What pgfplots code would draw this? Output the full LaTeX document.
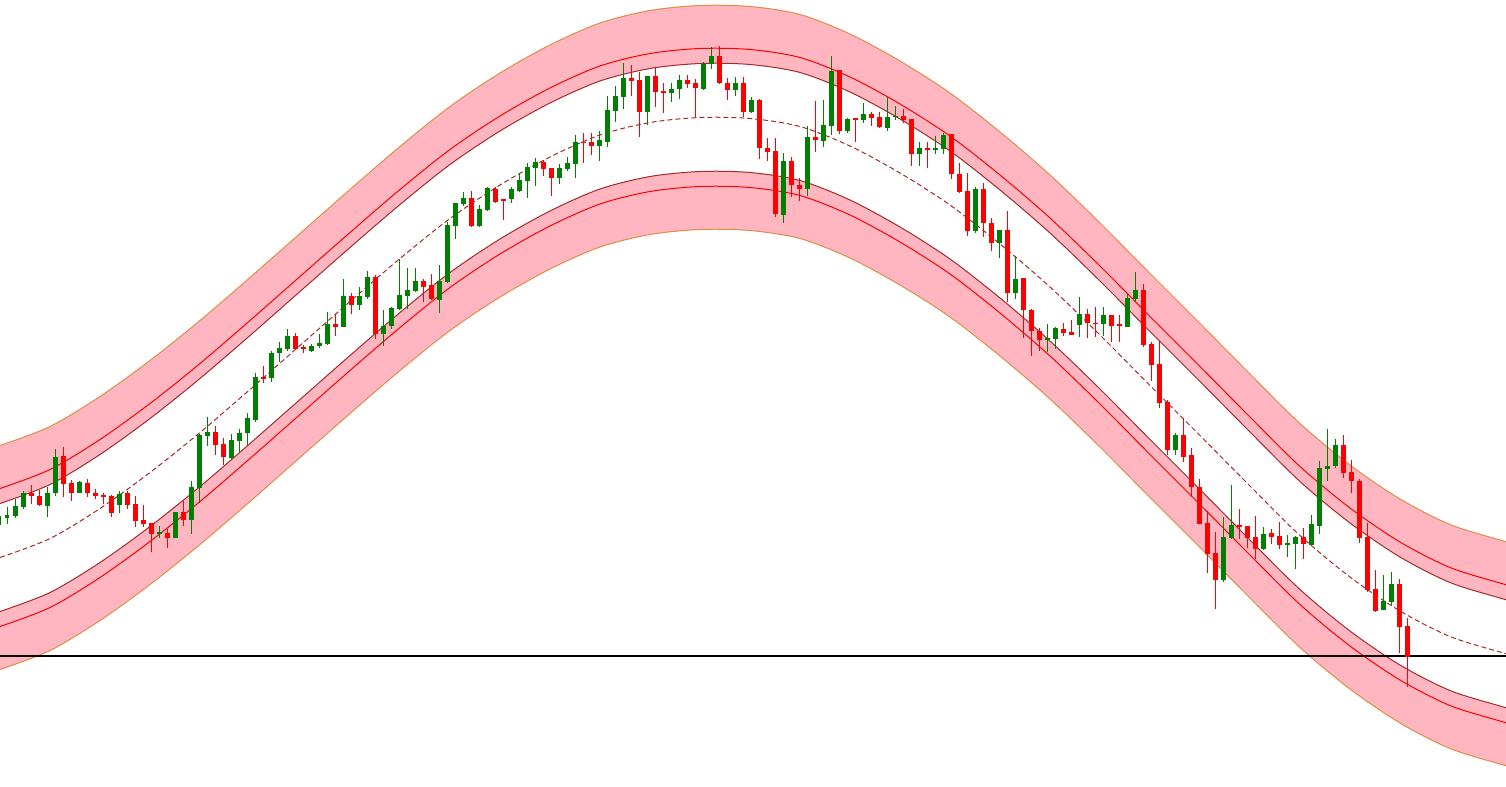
\documentclass[border=0pt]{standalone}
\usepackage{pgfplots}
\pgfplotsset{compat=1.18}
\usepackage{pgfplotstable}
\usepgfplotslibrary{fillbetween}
\definecolor{cgreen}{RGB}{0,128,0}
\definecolor{cred}{RGB}{255,0,0}
\definecolor{bandpink}{RGB}{255,182,193}
\definecolor{edgeorange}{RGB}{225,140,70}
\definecolor{innerbrown}{RGB}{165,42,42}

\pgfplotstableread{
x c uo ur ui li lr lo
0 557.5 445.5 488.5 503.5 611.5 626.5 669.5
50 538.5 426.5 469.5 484.5 592.5 607.5 650.5
100 508.5 396.5 439.5 454.5 562.5 577.5 620.5
150 472.5 360.5 403.5 418.5 526.5 541.5 584.5
200 432.5 320.5 363.5 378.5 486.5 501.5 544.5
250 389.5 277.5 320.5 335.5 443.5 458.5 501.5
300 345.5 233.5 276.5 291.5 399.5 414.5 457.5
350 301.5 189.5 232.5 247.5 355.5 370.5 413.5
400 258.5 146.5 189.5 204.5 312.5 327.5 370.5
450 218.5 106.5 149.5 164.5 272.5 287.5 330.5
500 185 73 116 131 239 254 297
550 157 45 88 103 211 226 269
600 135 23 66 81 189 204 247
650 122.5 10.5 53.5 68.5 176.5 191.5 234.5
700 117.5 5.5 48.5 63.5 171.5 186.5 229.5
750 118.5 6.5 49.5 64.5 172.5 187.5 230.5
800 126.5 14.5 57.5 72.5 180.5 195.5 238.5
850 146 34 77 92 200 215 258
900 173 61 104 119 227 242 285
950 205 93 136 151 259 274 317
1000 244 132 175 190 298 313 356
1050 287 175 218 233 341 356 399
1100 335 223 266 281 389 404 447
1150 385.5 273.5 316.5 331.5 439.5 454.5 497.5
1200 435.5 323.5 366.5 381.5 489.5 504.5 547.5
1250 486 374 417 432 540 555 598
1300 535.5 423.5 466.5 481.5 589.5 604.5 647.5
1350 577 465 508 523 631 646 689
1400 611 499 542 557 665 680 723
1450 636.5 524.5 567.5 582.5 690.5 705.5 748.5
1500 652 540 583 598 706 721 764
1506 653.5 541.5 584.5 599.5 707.5 722.5 765.5
}\band

\pgfplotstableread{
x bt bb wt wb
-1 516 525 514 527
7 515 517.7 506.7 524
15 506 516 499 518
23 492.7 506.7 491 509
47 493 506 486.7 516.7
55 456.7 493.3 449 496
79 481.7 492.7 481 493.3
119 494 505 491 512.7
159 532 534 526 538.3
175 512 538 512 538
191 486.7 520 480.7 534
199 435 488.3 434 503.3
207 432.3 435.7 417.3 446
231 440 457.7 434 459.3
239 432.7 440.7 429.3 452.7
247 418.3 433.3 413 445
255 376.7 420 373.3 421.7
271 353.3 378.3 351 381.7
279 348.3 353.3 341.7 361.7
287 336 348.7 329.3 351
311 346 350.7 344 351.7
319 342.7 346 334 348.3
327 324 343.7 311.7 345.3
343 296 326.7 279.3 327.3
359 296 305 287.3 310
367 276.7 296.7 271 299.3
383 326 334 310 346
391 308.3 326 306.7 329.3
399 295 309 259 310
407 290 296 268.3 309.3
415 281 291 267.7 291.7
439 281 300 265 312.7
447 225 282.3 221.7 282.7
455 202.7 225.7 202.7 239.3
463 198 204 191.7 205.7
479 209 225.7 205 226.7
487 187.7 210 186.7 210.7
511 188.7 199.3 186.7 202.7
519 180 190.7 173.3 191.7
527 166.7 180.7 163.3 198.3
535 162 167.7 157.7 185.7
559 168 177.7 164 184
567 163 168.7 157.3 170.7
575 142 163.7 135 178.3
599 140 145.7 130.7 160.7
607 110 141.7 96 147.3
615 96 110.7 86 121.7
623 78 96.7 63.3 109.3
647 76 111.7 76 125
671 89 93.3 82.7 101.7
679 80 89 75 99
703 64.3 89 62.3 90
711 56 64.3 47.3 69.3
735 82.7 90 77.3 96
751 100 111.7 97.3 112.7
783 160.7 215 153.3 223.3
807 136.7 189 126 195.7
823 125 140.7 100 146.7
831 70.7 126 56 135
847 119 131 118.3 133.3
863 114 120 102.7 122.7
887 117.3 127.7 97.3 130.7
895 116 117.3 106 120
919 148.3 154 142.3 165.7
935 148 150 136 154
943 135 149 133.3 154
975 189 231 186.7 232.7
999 230 242.7 230 257.7
1015 279.3 293.3 255.7 299
1047 337.7 340 324.3 351.7
1055 328.3 339 327.3 349.3
1079 314.3 325 297.3 336.7
1103 315 324 307.3 336
1127 298.3 326.7 293.3 326.7
1135 290 299 271.7 301.7
1175 435 450 432.7 455
1223 536.7 580 516.7 581.7
1231 525 538.3 485 539.3
1263 534 549 527.3 550
1287 542.7 545 535 556.7
1295 536.7 544 535.7 569.3
1311 524 545 515 545.7
1319 468.3 526 461 534
1327 466 469 429 480.7
1335 445 466 439 468.3
1383 600.7 610 575 610
1391 584 601.7 572.3 605
}\greenc

\pgfplotstableread{
x bt bb wt wb
31 492.7 495.7 485 504
39 496 505 490 506
63 456 484 446.7 497.3
71 482.7 492.7 480 500.7
87 482.7 493.3 479 497.3
95 492.7 496 489.3 499.3
103 495 496.7 493.3 504
111 496 513.3 495 516.7
127 493.3 505 491 509
135 504 520.7 496 527.3
143 520 524 505 527.3
151 523.3 534 523.3 551.7
167 533 538 529.3 548.3
183 512 520 500.7 526
215 432.3 445 426 455
223 444 457.3 438.3 465
263 376.7 378.7 366 383.3
295 336 348.7 333.3 349.3
303 347.3 349.3 345.3 353.3
335 324 326.7 314 336
351 296 305 292.7 314
375 276.7 334 275 339.3
423 281 286.7 279.3 301.7
431 285 299 274 300
471 198 225.7 191 226.7
495 188.7 201.7 186.7 203.3
503 199 200.7 199 220
543 161.7 169 160 176
551 168 177.7 168 195.7
583 142 143.3 132.7 162.7
591 142 145.7 133.3 155
631 78 80.7 65 96
639 80 111.7 72 136.7
655 76 91.7 67.3 106.7
663 91 93.3 83.3 113.3
687 80 84.3 75 88.3
695 83.3 87.7 79.3 117.3
719 56 83.3 46 84.3
727 82.7 90 78.3 100
743 82.7 111.7 77.3 117.3
759 100 147.7 99.3 159.3
767 147.7 151.7 138.3 160.7
775 151 214 138.3 216.7
791 160.7 185 157.3 196.7
799 185 189 178.3 200.7
815 136.7 140 101 151.7
839 70 130.7 70 134.3
855 118.3 120 118.3 141.7
871 114 117.7 111.7 126
879 117.3 126.7 111.7 128.3
903 116 120 109.3 122.7
911 119.3 154 119.3 165.7
927 148.3 150 142.3 167.7
951 134 174 134 179.3
959 174 192 162.7 193.3
967 191 231 173.3 235.7
983 189 223.3 183.3 236.7
991 223.3 242.7 217.7 250.7
1007 230 293.3 211 301.7
1023 278.3 310 278.3 338.3
1031 310 330.7 308.7 355.7
1039 330.7 340 328.3 350.7
1063 329 332.7 323.3 335.7
1071 332.3 335 320 335
1087 314.3 322.7 309.3 338.3
1095 322.7 324 306.7 336.7
1111 315 326 315 341.7
1119 324.3 326 315 341.7
1143 290 345 284 346.7
1151 344 365 341.7 381
1159 364 402.7 340.7 408.3
1167 401.7 450 400 455
1183 435 456.7 418.3 461.7
1191 455 486.7 447.7 496.7
1199 486.7 524 479.3 524
1207 522.7 554 510.7 572.7
1215 552.7 580 531.7 609
1239 525 527.3 509 539.3
1247 526 538.3 526 548.3
1255 536.7 549 516 559
1271 533.3 536.7 529.3 544
1279 536 545 521.7 549
1303 536.7 544 527.7 559
1343 445 472.7 435 477.7
1351 471.7 480.7 460 492.7
1359 480.7 537.7 479.3 542.7
1367 536.7 590 522.7 591.7
1375 589.3 610.7 570 611.7
1399 584 626.7 579.3 653.3
1407 626 656.7 618.3 686.7
}\redc

\begin{document}
\begin{tikzpicture}
\begin{axis}[
  width=15.06cm, height=7.86cm, scale only axis,
  xmin=0, xmax=1506, ymin=0, ymax=786, y dir=reverse,
  axis line style={draw=none}, xtick=\empty, ytick=\empty,
  clip=true]
% band boundaries (paths only)
\addplot[draw=none, name path=uo, smooth] table[x=x,y=uo]{\band};
\addplot[draw=none, name path=ui, smooth] table[x=x,y=ui]{\band};
\addplot[draw=none, name path=li, smooth] table[x=x,y=li]{\band};
\addplot[draw=none, name path=lo, smooth] table[x=x,y=lo]{\band};
\addplot[fill=bandpink, draw=none] fill between[of=uo and ui];
\addplot[fill=bandpink, draw=none] fill between[of=li and lo];
% visible band lines
\addplot[edgeorange, line width=0.1mm, smooth] table[x=x,y=uo]{\band};
\addplot[edgeorange, line width=0.1mm, smooth] table[x=x,y=lo]{\band};
\addplot[cred, line width=0.1mm, smooth] table[x=x,y=ur]{\band};
\addplot[cred, line width=0.1mm, smooth] table[x=x,y=lr]{\band};
\addplot[innerbrown, line width=0.1mm, smooth] table[x=x,y=ui]{\band};
\addplot[innerbrown, line width=0.1mm, smooth] table[x=x,y=li]{\band};
\addplot[innerbrown, line width=0.1mm, smooth, dash pattern=on 0.5mm off 0.3mm] table[x=x,y=c]{\band};
% horizontal line
\addplot[black, line width=0.12mm] coordinates {(0,656) (1506,656)};
% candles: wicks
\addplot[cgreen, line width=0.1mm, quiver={u=0, v={\thisrow{wb}-\thisrow{wt}}}] table[x=x,y=wt]{\greenc};
\addplot[cred, line width=0.1mm, quiver={u=0, v={\thisrow{wb}-\thisrow{wt}}}] table[x=x,y=wt]{\redc};
% candles: bodies
\addplot[cgreen, line width=0.5mm, quiver={u=0, v={\thisrow{bb}-\thisrow{bt}}}] table[x=x,y=bt]{\greenc};
\addplot[cred, line width=0.5mm, quiver={u=0, v={\thisrow{bb}-\thisrow{bt}}}] table[x=x,y=bt]{\redc};
\end{axis}
\end{tikzpicture}
\end{document}
